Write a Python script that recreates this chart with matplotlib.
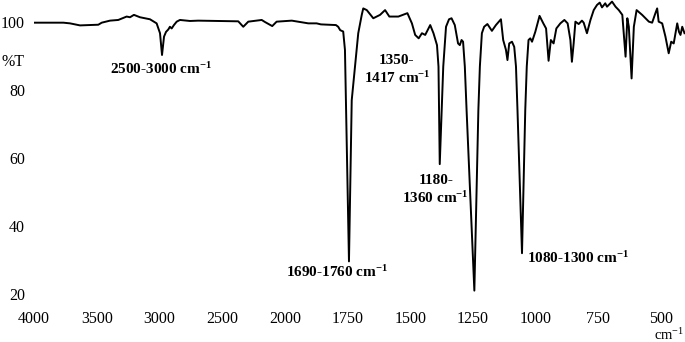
import numpy as np
import matplotlib
matplotlib.use("Agg")
import matplotlib.pyplot as plt
from matplotlib.ticker import FixedLocator

plt.rcParams['font.family'] = ['Liberation Serif', 'DejaVu Serif']
plt.rcParams['mathtext.default'] = 'regular'

### Spectre IR (nombre d'onde en cm-1, transmittance en %)
wn = [4000, 3766, 3713, 3633, 3487, 3460, 3394, 3328, 3261, 3234, 3203, 3155,
      3075, 3022, 2995, 2979, 2963, 2947, 2929, 2916, 2902, 2884, 2862, 2836,
      2756, 2690, 2371, 2331, 2291, 2224, 2184, 2158, 2100, 2065, 1972, 1906,
      1873, 1856, 1796, 1787, 1779, 1767, 1760, 1744, 1733, 1720, 1707, 1693,
      1687, 1673, 1647, 1620, 1600, 1583, 1547, 1511, 1493, 1480, 1466, 1453,
      1440, 1420, 1407, 1393, 1387, 1382, 1368, 1357, 1345, 1335, 1322, 1309,
      1302, 1295, 1289, 1282, 1275, 1244, 1228, 1222, 1214, 1205, 1192, 1174,
      1158, 1138, 1129, 1118, 1112, 1105, 1094, 1085, 1078, 1072, 1054, 1041,
      1035, 1028, 1021, 1014, 1001, 984, 969, 958, 948, 939, 928, 917,
      901, 885, 872, 861, 855, 848, 841, 828, 815, 808, 795, 781,
      768, 755, 744, 735, 722, 715, 695, 681, 668, 654, 641, 634,
      628, 617, 608, 597, 575, 548, 535, 522, 515, 509, 495, 482,
      469, 459, 449, 435, 428, 422, 415, 406]
T = [99.8, 99.8, 99.6, 99.0, 99.2, 99.8, 100.4, 100.6, 101.6, 101.4, 102.1, 101.4,
     100.8, 99.6, 96.7, 90.3, 95.7, 97.1, 97.8, 98.6, 98.1, 99.1, 100.1, 100.6,
     100.3, 100.4, 100.2, 98.6, 100.1, 100.4, 100.6, 100.0, 98.8, 100.1, 100.4, 99.6,
     99.6, 99.3, 99.1, 98.6, 97.6, 97.2, 91.8, 29.6, 77.0, 86.9, 96.7, 102.1,
     104.0, 103.5, 101.1, 102.1, 103.5, 101.6, 101.6, 102.6, 99.6, 96.2, 95.2, 96.7,
     96.2, 99.1, 96.7, 93.2, 86.9, 58.2, 86.9, 98.6, 100.8, 101.1, 99.1, 93.7,
     93.2, 94.7, 94.2, 86.9, 74.1, 21.0, 74.1, 86.9, 96.7, 98.6, 99.4, 97.4,
     99.1, 100.8, 94.7, 91.8, 88.8, 93.7, 94.2, 92.7, 86.9, 74.1, 32.0, 74.1,
     86.9, 94.7, 95.2, 94.2, 97.1, 101.8, 99.6, 98.1, 88.6, 94.7, 93.7, 98.1,
     99.6, 100.6, 99.6, 94.7, 88.3, 93.7, 100.1, 99.4, 100.4, 99.8, 96.7, 100.6,
     103.5, 105.0, 105.7, 104.3, 105.5, 104.5, 106.0, 104.5, 103.5, 102.1, 89.8, 101.1,
     98.6, 83.4, 98.6, 103.5, 102.1, 100.1, 99.8, 102.6, 104.0, 100.1, 99.6, 95.7,
     90.8, 94.2, 93.7, 99.6, 97.1, 96.2, 98.6, 96.7]

xticks = [4000, 3500, 3000, 2500, 2000, 1750, 1500, 1250, 1000, 750, 500]
yticks = [20, 40, 60, 80, 100]

### Annotations (texte, nombre d'onde, %T)
labels = ["2500-3000 cm$^{-1}$", "1350-\n1417 cm$^{-1}$", "1180-\n1360 cm$^{-1}$",
          "1690-1760 cm$^{-1}$", "1080-1300 cm$^{-1}$"]
lab_x = [2983, 1553, 1398, 1792, 831]
lab_y = [86.2, 85.9, 50.6, 26.5, 30.6]


# échelle coupée à 2000 cm-1 (500 cm-1 par graduation avant, 250 après)
# fonction croissante : on inverse l'axe avec set_xlim(4000, ...)
def fwd(w):
    w = np.asarray(w, dtype=float)
    return -np.where(w >= 2000, (4000 - w) / 500, 4 + (2000 - w) / 250)


def inv(v):
    u = -np.asarray(v, dtype=float)
    return np.where(u <= 4, 4000 - 500 * u, 2000 - 250 * (u - 4))


fig = plt.figure(figsize=(6.85, 3.42), dpi=100)
ax = fig.add_axes([34 / 685, 42 / 342, 651 / 685, 300 / 342])
ax.set_xscale('function', functions=(fwd, inv))
ax.plot(wn, T, color='black', lw=1.4)
ax.set_xlim(4000, 404)
ax.set_ylim(18.24, 106.47)

ax.xaxis.set_major_locator(FixedLocator(xticks))
ax.xaxis.set_minor_locator(FixedLocator([]))
ax.set_xticklabels([str(t) for t in xticks])
ax.set_yticks(yticks)
ax.tick_params(length=0, labelsize=11.5)
ax.tick_params(axis='x', pad=8)
ax.tick_params(axis='y', pad=6.5)
for s in ax.spines.values():
    s.set_visible(False)

for txt, x, y in zip(labels, lab_x, lab_y):
    ax.text(x, y, txt, ha='center', va='center', fontsize=11,
            fontweight='bold', linespacing=1.25)

fig.text(25 / 685, 1 - 62.5 / 342, "%T", ha='right', va='center', fontsize=11.5)
fig.text(684 / 685, 1.5 / 342, "cm$^{-1}$", ha='right', va='baseline', fontsize=10.5)

fig.savefig("out.png", dpi=100)
